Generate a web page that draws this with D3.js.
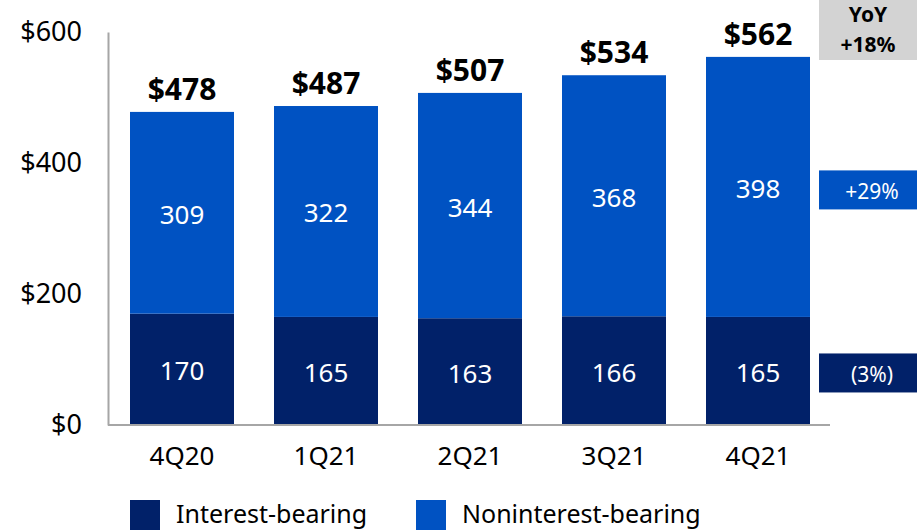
<!DOCTYPE html>
<html>
<head>
<meta charset="utf-8">
<script src="https://cdn.jsdelivr.net/npm/d3@7"></script>
<style>
  body { margin: 0; background: #fff; }
  text { font-family: "Noto Sans", sans-serif; }
</style>
</head>
<body>
<svg class="chart" width="917" height="532"></svg>
<script>
var quarters = ["4Q20", "1Q21", "2Q21", "3Q21", "4Q21"];
var interestBearing = [170, 165, 163, 166, 165];
var noninterestBearing = [309, 322, 344, 368, 398];
var totals = [478, 487, 507, 534, 562];
var yTicks = [0, 200, 400, 600];
var seriesNames = ["Interest-bearing", "Noninterest-bearing"];
var yoyLabels = ["(3%)", "+29%"];

var darkBlue = "#012169";
var blue = "#0052c2";

var svg = d3.select(".chart");

// step 144, bar 104
var x = d3.scaleBand()
    .domain(quarters)
    .range([110, 830])
    .paddingInner(40 / 144)
    .paddingOuter(20 / 144);

var y = d3.scaleLinear()
    .domain([0, 600])
    .range([425, 32]);

var rows = quarters.map(function(q, i) {
  return { q: q, ib: interestBearing[i], nib: noninterestBearing[i], total: totals[i] };
});

// bars
var g = svg.append("g");

g.selectAll(".ib")
  .data(rows)
  .enter().append("rect")
  .attr("x", function(d) { return x(d.q); })
  .attr("width", x.bandwidth())
  .attr("y", function(d) { return y(d.ib); })
  .attr("height", function(d) { return y(0) - y(d.ib); })
  .style("fill", darkBlue);

g.selectAll(".nib")
  .data(rows)
  .enter().append("rect")
  .attr("x", function(d) { return x(d.q); })
  .attr("width", x.bandwidth())
  .attr("y", function(d) { return y(d.total); })
  .attr("height", function(d) { return y(d.ib) - y(d.total); })
  .style("fill", blue);

// segment labels
g.selectAll(".ibl")
  .data(rows)
  .enter().append("text")
  .attr("x", function(d) { return x(d.q) + x.bandwidth() / 2; })
  .attr("y", function(d) { return (y(0) + y(d.ib)) / 2 + 1; })
  .attr("text-anchor", "middle")
  .attr("dominant-baseline", "central")
  .style("font-size", "26px")
  .style("fill", "#fff")
  .text(function(d) { return d.ib; });

g.selectAll(".nibl")
  .data(rows)
  .enter().append("text")
  .attr("x", function(d) { return x(d.q) + x.bandwidth() / 2; })
  .attr("y", function(d) { return (y(d.ib) + y(d.total)) / 2 + 1; })
  .attr("text-anchor", "middle")
  .attr("dominant-baseline", "central")
  .style("font-size", "26px")
  .style("fill", "#fff")
  .text(function(d) { return d.nib; });

g.selectAll(".tot")
  .data(rows)
  .enter().append("text")
  .attr("x", function(d) { return x(d.q) + x.bandwidth() / 2; })
  .attr("y", function(d) { return y(d.total) - 12; })
  .attr("text-anchor", "middle")
  .style("font-size", "30px")
  .style("font-weight", "bold")
  .style("fill", "#000")
  .text(function(d) { return "$" + d.total; });

// axes
var yAxis = svg.append("g")
  .attr("transform", "translate(108,0)")
  .call(d3.axisLeft(y).tickValues(yTicks).tickSize(0).tickPadding(26)
    .tickFormat(function(d) { return "$" + d; }));
yAxis.select(".domain").attr("stroke", "#a6a6a6").attr("stroke-width", 2);
yAxis.selectAll("text").style("font-size", "27px").style("fill", "#000")
  .attr("font-family", null);

svg.append("line")
  .attr("x1", 108).attr("x2", 830)
  .attr("y1", y(0)).attr("y2", y(0))
  .attr("stroke", "#a6a6a6").attr("stroke-width", 2);

var xAxis = svg.append("g")
  .attr("transform", "translate(0," + y(0) + ")")
  .call(d3.axisBottom(x).tickSize(0).tickPadding(22));
xAxis.select(".domain").remove();
xAxis.selectAll("text").style("font-size", "26px").style("fill", "#000")
  .attr("font-family", null);

// YoY boxes
svg.append("rect").attr("x", 819).attr("y", 0).attr("width", 98).attr("height", 60)
  .style("fill", "#d3d3d3");
svg.append("text").attr("x", 868).attr("y", 22).attr("text-anchor", "middle")
  .style("font-size", "21px").style("font-weight", "bold").text("YoY");
svg.append("text").attr("x", 868).attr("y", 52).attr("text-anchor", "middle")
  .style("font-size", "21px").style("font-weight", "bold").text("+18%");

var yoyRows = [
  { label: yoyLabels[0], mid: (y(0) + y(interestBearing[4])) / 2 + 2, color: darkBlue },
  { label: yoyLabels[1], mid: (y(interestBearing[4]) + y(totals[4])) / 2 + 3, color: blue }
];
svg.selectAll(".yoy")
  .data(yoyRows)
  .enter().append("rect")
  .attr("x", 819).attr("width", 98)
  .attr("y", function(d) { return d.mid - 19.5; })
  .attr("height", 39)
  .style("fill", function(d) { return d.color; });
svg.selectAll(".yoyt")
  .data(yoyRows)
  .enter().append("text")
  .attr("x", 872)
  .attr("y", function(d) { return d.mid + 1; })
  .attr("text-anchor", "middle")
  .attr("dominant-baseline", "central")
  .style("font-size", "21px")
  .style("fill", "#fff")
  .text(function(d) { return d.label; });

// legend
var legend = svg.append("g");
var legX = [130, 416];
seriesNames.forEach(function(name, i) {
  legend.append("rect").attr("x", legX[i]).attr("y", 500).attr("width", 30).attr("height", 30)
    .style("fill", i === 0 ? darkBlue : blue);
  legend.append("text").attr("x", legX[i] + 46).attr("y", 523)
    .style("font-size", "25px").style("fill", "#000").text(name);
});
</script>
</body>
</html>
